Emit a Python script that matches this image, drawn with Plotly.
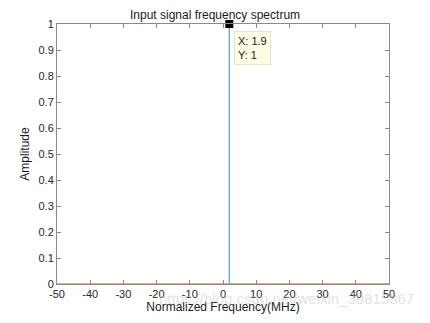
import plotly.graph_objects as go

# Spectrum data: zero everywhere except a single spike at 1.9 MHz
freq = [-50, 1.9, 1.9, 1.9, 50]
amplitude = [0, 0, 1, 0, 0]

x_ticks = [-50, -40, -30, -20, -10, 0, 10, 20, 30, 40, 50]
y_ticks = [0, 0.1, 0.2, 0.3, 0.4, 0.5, 0.6, 0.7, 0.8, 0.9, 1]

tip_x = 1.9
tip_y = 1

font_family = "Liberation Sans, Arial, Helvetica, sans-serif"
axis_color = "#8a8a8a"
text_color = "#262626"

fig = go.Figure()
fig.add_trace(go.Scatter(
    x=freq, y=amplitude, mode="lines",
    line=dict(color="#76acd4", width=1.5),
    hoverinfo="skip", showlegend=False, cliponaxis=False,
))
fig.add_trace(go.Scatter(
    x=[tip_x], y=[tip_y], mode="markers",
    marker=dict(symbol="square", size=8, color="black"),
    hoverinfo="skip", showlegend=False, cliponaxis=False,
))

fig.add_annotation(
    x=tip_x, y=tip_y, xref="x", yref="y",
    text="X: 1.9<br>Y: 1", showarrow=False,
    xanchor="left", yanchor="top", xshift=5, yshift=-7,
    align="left", bgcolor="#fdfde6", bordercolor="#e6e6cc", borderwidth=1,
    borderpad=3, font=dict(family=font_family, size=11, color="#1a1a1a"),
)
# faint watermark from the source image
fig.add_annotation(
    x=0.69, y=-0.057, xref="paper", yref="paper",
    text="https://blog.csdn.net/weixin_39815867", showarrow=False,
    xanchor="center", yanchor="middle",
    font=dict(family=font_family, size=15, color="rgba(190,190,190,0.45)"),
)

axis_common = dict(
    showline=True, linecolor=axis_color, linewidth=1, mirror="ticks",
    ticks="inside", ticklen=4, tickcolor=axis_color,
    showgrid=False, zeroline=False,
    tickfont=dict(family=font_family, size=11, color=text_color),
)

fig.update_layout(
    width=430, height=323,
    margin=dict(l=57, r=41, t=24, b=36),
    paper_bgcolor="white", plot_bgcolor="white",
    title=dict(text="Input signal frequency spectrum", x=0.5, xanchor="center",
               y=1 - 15 / 323, yanchor="middle",
               font=dict(family=font_family, size=12, color="#1a1a1a")),
    xaxis=dict(range=[-50, 50], tickvals=x_ticks, ticktext=[str(v) for v in x_ticks],
               title=dict(text="Normalized Frequency(MHz)", standoff=2,
                          font=dict(family=font_family, size=12, color="#1a1a1a")),
               **axis_common),
    yaxis=dict(range=[0, 1], tickvals=y_ticks, ticktext=[f"{v:g}" for v in y_ticks],
               title=dict(text="Amplitude", standoff=6,
                          font=dict(family=font_family, size=12, color="#1a1a1a")),
               **axis_common),
)

fig.write_html("out.html")
